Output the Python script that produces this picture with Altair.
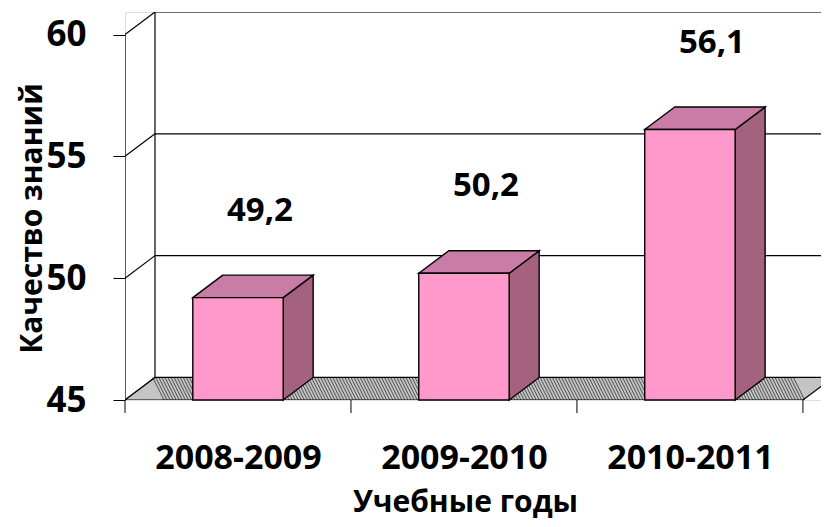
import json
import altair as alt
import numpy as np
import pandas as pd

# ---- data ----
years = ["2008-2009", "2009-2010", "2010-2011"]
quality = [49.2, 50.2, 56.1]
value_labels = ["49,2", "50,2", "56,1"]
y_ticks = [45, 50, 55, 60]

# ---- 3-D geometry (in data units) ----
Y0, YMAX = 45, 60
DX, DY = 0.1327, 0.925      # depth offset of the back wall
HALF = 0.2                  # half bar width (bands are 1 unit)
XMAX = 3.08
FONT = "Open Sans"

xs = alt.Scale(domain=[0, XMAX], nice=False, zero=False)
ys = alt.Scale(domain=[Y0, YMAX + DY], nice=False, zero=False)

label_expr = "{}[floor(datum.value)]".format(json.dumps(years))
x_axis = alt.Axis(title="Учебные годы", values=[0.5, 1.5, 2.5], labelExpr=label_expr,
                  grid=False, domain=False, ticks=False, tickSize=0,
                  labelFont=FONT, labelFontSize=34, labelFontWeight="bold", labelColor="black",
                  labelPadding=41, labelBaseline="top",
                  titleFont=FONT, titleFontSize=30, titleFontWeight="bold", titleColor="black",
                  titleX=340, titleY=111, titleBaseline="alphabetic", titleAlign="center")
y_axis = alt.Axis(title="Качество знаний", values=y_ticks, grid=False, domain=False,
                  tickSize=12, tickColor="black", tickWidth=1,
                  labelFont=FONT, labelFontSize=35, labelFontWeight="bold", labelColor="black",
                  labelPadding=27,
                  titleFont=FONT, titleFontSize=30, titleFontWeight="bold", titleColor="black",
                  titleX=-93, titleY=206, titleAngle=-90, titleAlign="center", titleBaseline="middle")


def X(field):
    return alt.X(field, type="quantitative", scale=xs, axis=x_axis, stack=None)


def Y(field):
    return alt.Y(field, type="quantitative", scale=ys, axis=y_axis, stack=None)


idx = np.arange(len(years))
bars = pd.DataFrame({"year": years, "value": quality, "label": value_labels, "c": idx + 0.5})
bars["l"] = bars["c"] - HALF
bars["r"] = bars["c"] + HALF
bars["y0"] = Y0

# frame lines: front axis, left wall diagonals, back-left edge, back wall gridlines
rows = [dict(x=0, y=Y0, x2=0, y2=YMAX)]
for g in y_ticks:
    rows.append(dict(x=0, y=g, x2=DX, y2=g + DY))
rows.append(dict(x=DX, y=Y0 + DY, x2=DX, y2=YMAX + DY))
for g in y_ticks[1:]:
    rows.append(dict(x=DX, y=g + DY, x2=XMAX, y2=g + DY))
frame = pd.DataFrame(rows)

floor = pd.DataFrame({"y": [Y0, Y0 + DY], "x": [0, DX], "x2": [len(years), len(years) + DX]})

H = 0.05
hx = np.arange(DX - 0.01, len(years) - H + 0.02, 0.0135)
hatch = pd.DataFrame({"x": hx, "y": Y0 + DY, "x2": hx + H, "y2": Y0})

tops = pd.concat([
    pd.DataFrame({"year": years, "y": bars["value"], "x": bars["l"], "x2": bars["r"]}),
    pd.DataFrame({"year": years, "y": bars["value"] + DY, "x": bars["l"] + DX, "x2": bars["r"] + DX}),
])
sides = pd.concat([
    pd.DataFrame({"year": years, "x": bars["r"], "y": Y0, "y2": bars["value"]}),
    pd.DataFrame({"year": years, "x": bars["r"] + DX, "y": Y0 + DY, "y2": bars["value"] + DY}),
])
xticks = pd.DataFrame({"x": list(range(len(years) + 1))})

back = alt.Chart(frame).mark_rule(color="black", strokeWidth=1.2, clip=True).encode(
    x=X("x"), x2="x2", y=Y("y"), y2="y2")

floor_fill = alt.Chart(floor).mark_area(orient="horizontal", color="#c4c4c4", clip=True).encode(
    y=Y("y"), x=X("x"), x2="x2")
hatch_l = alt.Chart(hatch).mark_rule(color="#505050", strokeWidth=1).encode(
    x=X("x"), x2="x2", y=Y("y"), y2="y2")
floor_edge = alt.Chart(floor).mark_area(orient="horizontal", fillOpacity=0, stroke="black",
                                        strokeWidth=1.2, clip=True).encode(
    y=Y("y"), x=X("x"), x2="x2")

side = alt.Chart(sides).mark_area(orient="vertical", color="#A5627F", stroke="black",
                                  strokeWidth=1.4).encode(
    x=X("x"), y=Y("y"), y2="y2", detail="year:N")
top = alt.Chart(tops).mark_area(orient="horizontal", color="#C97CA6", stroke="black",
                                strokeWidth=1.4).encode(
    y=Y("y"), x=X("x"), x2="x2", detail="year:N")
front = alt.Chart(bars).mark_rect(color="#FF99CC", stroke="black", strokeWidth=1.4).encode(
    x=X("l"), x2="r", y=Y("y0"), y2="value")

text = alt.Chart(bars).mark_text(font=FONT, fontSize=33, fontWeight="bold", color="black",
                                 dx=22, dy=-87, baseline="middle").encode(
    x=X("c"), y=Y("value"), text="label:N")

xtick = alt.Chart(xticks).mark_rule(color="black", strokeWidth=1).encode(
    x=X("x"), y=alt.value(388), y2=alt.value(401))

chart = alt.layer(back, floor_fill, hatch_l, floor_edge, side, top, front, text, xtick).properties(
    width=696, height=388,
    autosize=alt.AutoSizeParams(type="none"),
    padding={"left": 117, "top": 4, "right": 0, "bottom": 119},
).configure_view(stroke=None).configure(background="white")

chart.save("out.html", embed_options={"renderer": "svg", "actions": False})
